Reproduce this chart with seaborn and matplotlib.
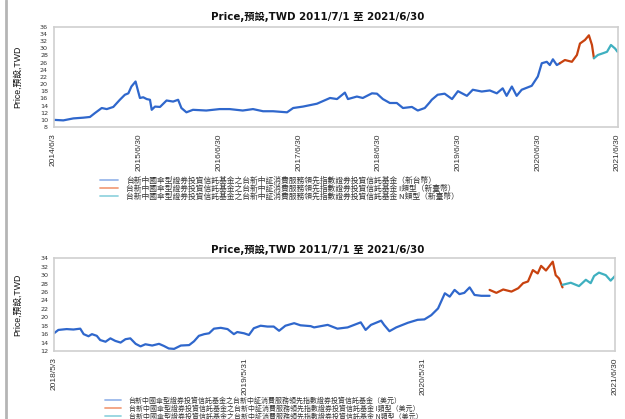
import pandas as pd
import matplotlib
matplotlib.use('Agg')
import matplotlib.pyplot as plt
from matplotlib.lines import Line2D
import seaborn as sns

# ---- top chart: TWD share classes ----
top_blue_dates = ['2014-06-03', '2014-07-18', '2014-09-02', '2014-10-17', '2014-11-17', '2014-12-10',
                  '2015-01-10', '2015-02-02', '2015-03-04', '2015-04-03', '2015-04-26', '2015-05-12',
                  '2015-05-26', '2015-06-14', '2015-06-26', '2015-07-04', '2015-07-19', '2015-08-04',
                  '2015-08-19', '2015-08-27', '2015-09-11', '2015-10-04', '2015-11-03', '2015-12-03',
                  '2015-12-26', '2016-01-10', '2016-02-02', '2016-03-03', '2016-05-03', '2016-07-03',
                  '2016-08-18', '2016-10-17', '2016-12-03', '2017-01-18', '2017-03-05', '2017-05-08',
                  '2017-06-05', '2017-07-20', '2017-09-22', '2017-11-21', '2017-12-23', '2018-01-28',
                  '2018-02-11', '2018-03-24', '2018-04-20', '2018-06-01', '2018-06-24', '2018-07-21',
                  '2018-08-22', '2018-09-23', '2018-10-21', '2018-12-01', '2018-12-28', '2019-01-29',
                  '2019-02-21', '2019-03-02', '2019-03-29', '2019-04-30', '2019-06-03', '2019-06-30',
                  '2019-08-10', '2019-09-06', '2019-10-17', '2019-11-23', '2019-12-25', '2020-01-21',
                  '2020-02-08', '2020-03-03', '2020-03-25', '2020-04-17', '2020-06-02', '2020-06-30',
                  '2020-07-18', '2020-08-10', '2020-08-24', '2020-09-07', '2020-09-25', '2020-10-09']
top_blue_vals = [10.0, 9.85, 10.4, 10.6, 10.8, 11.9,
                 13.3, 13.0, 13.6, 15.6, 17.0, 17.4,
                 19.3, 20.7, 17.9, 16.1, 16.3, 15.8,
                 15.6, 12.8, 13.7, 13.6, 15.4, 15.1,
                 15.6, 13.3, 12.1, 12.8, 12.6, 13.0,
                 13.0, 12.6, 13.0, 12.4, 12.4, 12.1,
                 13.3, 13.7, 14.5, 16.1, 15.8, 17.6,
                 15.8, 16.5, 16.1, 17.4, 17.3, 15.8,
                 14.7, 14.7, 13.3, 13.6, 12.6, 13.3,
                 14.9, 15.6, 17.0, 17.3, 15.8, 18.0,
                 16.7, 18.4, 17.9, 18.2, 17.4, 18.8,
                 16.7, 19.3, 16.7, 18.4, 19.5, 22.1,
                 25.8, 26.2, 25.3, 26.9, 25.3, 25.8]
top_red_dates = ['2020-10-09', '2020-11-01', '2020-12-03', '2020-12-26', '2021-01-09', '2021-02-01',
                 '2021-02-19', '2021-03-05', '2021-03-14']
top_red_vals = [25.8, 26.7, 26.2, 28.1, 31.3, 32.3, 33.6, 30.9, 27.2]
top_cyan_dates = ['2021-03-14', '2021-04-01', '2021-04-25', '2021-05-13', '2021-05-31', '2021-06-19',
                  '2021-06-30']
top_cyan_vals = [27.2, 28.1, 28.6, 29.0, 30.9, 29.9, 29.0]

# ---- bottom chart: USD share classes ----
bot_blue_dates = ['2018-05-03', '2018-05-12', '2018-05-29', '2018-06-12', '2018-06-26', '2018-07-03',
                  '2018-07-13', '2018-07-20', '2018-07-30', '2018-08-06', '2018-08-17', '2018-08-27',
                  '2018-09-06', '2018-09-17', '2018-09-27', '2018-10-07', '2018-10-18', '2018-10-28',
                  '2018-11-07', '2018-11-21', '2018-12-05', '2018-12-15', '2018-12-25', '2019-01-05',
                  '2019-01-19', '2019-02-05', '2019-02-15', '2019-02-25', '2019-03-08', '2019-03-18',
                  '2019-03-28', '2019-04-11', '2019-04-25', '2019-05-08', '2019-05-15', '2019-05-29',
                  '2019-06-08', '2019-06-18', '2019-07-02', '2019-07-16', '2019-07-29', '2019-08-09',
                  '2019-08-22', '2019-09-09', '2019-09-22', '2019-10-13', '2019-10-20', '2019-11-17',
                  '2019-12-07', '2019-12-28', '2020-01-24', '2020-02-03', '2020-02-14', '2020-03-06',
                  '2020-03-12', '2020-03-23', '2020-04-06', '2020-04-30', '2020-05-20', '2020-06-03',
                  '2020-06-17', '2020-07-01', '2020-07-15', '2020-07-25', '2020-08-04', '2020-08-14',
                  '2020-08-24', '2020-09-04', '2020-09-14', '2020-09-28', '2020-10-15']
bot_blue_vals = [16.2, 17.0, 17.2, 17.1, 17.3, 16.0,
                 15.5, 16.0, 15.6, 14.6, 14.2, 15.0,
                 14.4, 14.0, 14.8, 15.0, 13.7, 13.1,
                 13.6, 13.3, 13.7, 13.2, 12.6, 12.5,
                 13.3, 13.4, 14.3, 15.6, 16.0, 16.2,
                 17.3, 17.5, 17.2, 16.0, 16.5, 16.2,
                 15.8, 17.4, 18.0, 17.8, 17.8, 16.8,
                 18.0, 18.6, 18.1, 17.9, 17.6, 18.2,
                 17.3, 17.6, 18.8, 17.0, 18.2, 19.2,
                 18.2, 16.7, 17.6, 18.7, 19.4, 19.5,
                 20.5, 22.1, 25.7, 24.9, 26.5, 25.5,
                 25.8, 27.1, 25.3, 25.1, 25.1]
bot_red_dates = ['2020-10-15', '2020-10-29', '2020-11-12', '2020-11-29', '2020-12-13', '2020-12-23',
                 '2021-01-02', '2021-01-12', '2021-01-22', '2021-01-29', '2021-02-08', '2021-02-22',
                 '2021-02-28', '2021-03-07', '2021-03-14']
bot_red_vals = [26.5, 25.8, 26.6, 26.1, 26.9, 28.1, 28.5, 31.2, 30.4, 32.2, 31.1, 33.2, 30.0, 29.2, 27.1]
bot_cyan_dates = ['2021-03-14', '2021-03-31', '2021-04-17', '2021-05-01', '2021-05-11', '2021-05-18',
                  '2021-05-28', '2021-06-11', '2021-06-21', '2021-06-30']
bot_cyan_vals = [27.7, 28.2, 27.4, 28.9, 28.1, 29.8, 30.6, 30.0, 28.7, 29.8]

fund = '台新中國傘型證券投資信託基金之台新中証消費服務領先指數證券投資信託基金'
top_labels = [fund + '（新台幣）', fund + ' I類型（新臺幣）', fund + ' N類型（新臺幣）']
bot_labels = [fund + '（美元）', fund + ' I類型（美元）', fund + ' N類型（美元）']
top_ticks = ['2014-06-03', '2015-06-30', '2016-06-30', '2017-06-30', '2018-06-30', '2019-06-30',
             '2020-06-30', '2021-06-30']
top_tick_labels = ['2014/6/3', '2015/6/30', '2016/6/30', '2017/6/30', '2018/6/30', '2019/6/30',
                   '2020/6/30', '2021/6/30']
bot_ticks = ['2018-05-03', '2019-05-31', '2020-05-31', '2021-06-30']
bot_tick_labels = ['2018/5/3', '2019/5/31', '2020/5/31', '2021/6/30']
title = 'Price,預設,TWD 2011/7/1 至 2021/6/30'
ylab = 'Price,預設,TWD'

line_colors = ['#2f67cc', '#c8420f', '#3fb0c0']
legend_colors = ['#9ab8ea', '#f2a07e', '#94d4df']

sns.set_theme(style='white')
plt.rcParams['font.family'] = ['DejaVu Sans', 'Noto Sans CJK TC']
narrow = ['Liberation Sans Narrow', 'Liberation Sans', 'Noto Sans CJK TC']


def make_df(parts, labels):
    frames = []
    for (d, v), lab in zip(parts, labels):
        frames.append(pd.DataFrame({'date': pd.to_datetime(d), 'price': v, 'series': lab}))
    return pd.concat(frames, ignore_index=True)


def style_axes(ax, ticks, tick_labels, ylo, yhi):
    ax.set_xlim(pd.Timestamp(ticks[0]), pd.Timestamp(ticks[-1]))
    ax.set_ylim(ylo, yhi)
    ax.set_yticks(range(ylo, yhi + 1, 2))
    ax.set_xticks(pd.to_datetime(ticks))
    ax.set_xticklabels(tick_labels, rotation=90, family=narrow, fontsize=6, color='#333333')
    for s in ax.spines.values():
        s.set_color('#cfcfcf')
        s.set_linewidth(1.2)
    ax.tick_params(axis='both', direction='out', length=3, width=0.8, color='#9a9a9a', pad=1.5)
    ax.tick_params(axis='y', labelsize=4.6, labelcolor='#333333', pad=1)
    ax.set_xlabel('')
    ax.set_ylabel(ylab, family=narrow, fontsize=6.3, color='#111111')


fig = plt.figure(figsize=(6.25, 4.19), dpi=100)
ax1 = fig.add_axes([53.5 / 625, 1 - 127 / 419, 564 / 625, 100.3 / 419])
ax2 = fig.add_axes([54 / 625, 1 - 351 / 419, 561 / 625, 92.7 / 419])

df_top = make_df([(top_blue_dates, top_blue_vals), (top_red_dates, top_red_vals),
                  (top_cyan_dates, top_cyan_vals)], top_labels)
df_bot = make_df([(bot_blue_dates, bot_blue_vals), (bot_red_dates, bot_red_vals),
                  (bot_cyan_dates, bot_cyan_vals)], bot_labels)

sns.lineplot(data=df_top, x='date', y='price', hue='series', hue_order=top_labels,
             palette=line_colors, ax=ax1, legend=False, linewidth=1.6, estimator=None)
sns.lineplot(data=df_bot, x='date', y='price', hue='series', hue_order=bot_labels,
             palette=line_colors, ax=ax2, legend=False, linewidth=1.6, estimator=None)

style_axes(ax1, top_ticks, top_tick_labels, 8, 36)
style_axes(ax2, bot_ticks, bot_tick_labels, 12, 34)
ax1.yaxis.set_label_coords(-31 / 564, 0.5)
ax2.yaxis.set_label_coords(-32 / 561, 0.5)

fig.text(317.5 / 625, 1 - 17 / 419, title, ha='center', va='center', fontsize=7.4,
         fontweight='bold', color='#111111')
fig.text(317.5 / 625, 1 - 250 / 419, title, ha='center', va='center', fontsize=7.4,
         fontweight='bold', color='#111111')

for ax, labels, x0, y0, fs in [(ax1, top_labels, 100, 176.5, 5.6), (ax2, bot_labels, 105, 396.5, 5.0)]:
    handles = [Line2D([], [], color=c, lw=1.3) for c in legend_colors]
    ax.legend(handles, labels, loc='upper left', bbox_to_anchor=(x0 / 625, 1 - y0 / 419),
              bbox_transform=fig.transFigure, frameon=False, borderpad=0, borderaxespad=0,
              handlelength=2.3, handletextpad=1.1, labelspacing=0.0,
              prop={'family': ['Noto Sans CJK TC', 'DejaVu Sans'], 'size': fs},
              labelcolor='#333333')

# page edge on the left
fig.add_artist(Line2D([6 / 625, 6 / 625], [0, 1], transform=fig.transFigure,
                      color='#b5b5b5', lw=2))

plt.savefig('out.png', dpi=100)
